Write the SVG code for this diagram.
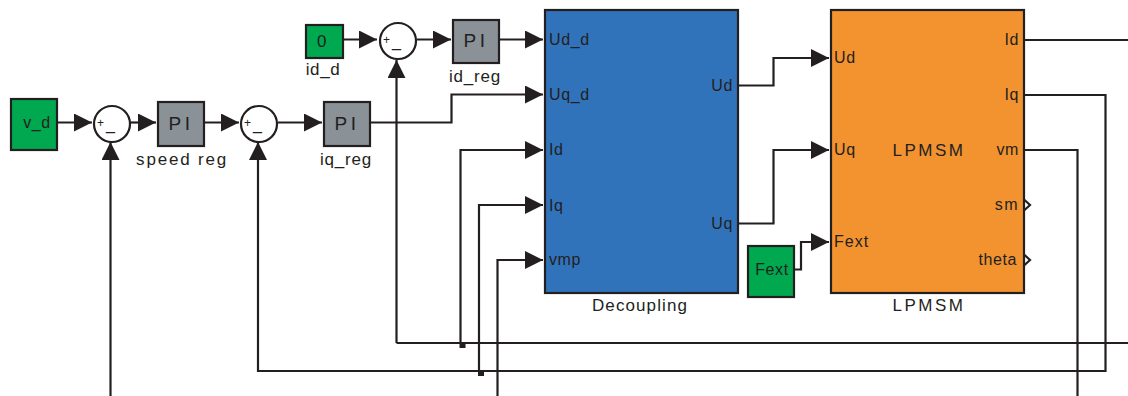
<svg xmlns="http://www.w3.org/2000/svg" width="1128" height="396" viewBox="0 0 1128 396">
<style>
text{font-family:"Liberation Sans",Arial,sans-serif;font-size:16px;fill:#231f20;letter-spacing:.6px}
.b{stroke:#231f20;stroke-width:2.200}
.g{fill:#00a84f}.p{fill:#8a9197}
.l{fill:none;stroke:#231f20;stroke-width:2.200}
.a{fill:#231f20;stroke:none}
.pi{font-size:19px;letter-spacing:3.500px;text-anchor:middle}
.lab{font-size:17px;text-anchor:middle}
.m{text-anchor:middle}.e{text-anchor:end}
.plus{font-size:12px;letter-spacing:0}
</style>
<defs><marker id="h" markerUnits="userSpaceOnUse" markerWidth="18" markerHeight="18" refX="18" refY="9" orient="auto"><path class="a" d="M0 0L18 9L0 18Z"/></marker></defs>
<g id="connectors">
<path class="l" marker-end="url(#h)" d="M57 122.500H92"/>
<path class="l" marker-end="url(#h)" d="M130 122.500H156"/>
<path class="l" marker-end="url(#h)" d="M204 122.500H239"/>
<path class="l" marker-end="url(#h)" d="M278 122.500H322"/>
<path class="l" marker-end="url(#h)" d="M343 39.500H377"/>
<path class="l" marker-end="url(#h)" d="M417 39.500H451"/>
<path class="l" marker-end="url(#h)" d="M499 39.500H543"/>
<path class="l" marker-end="url(#h)" d="M370 122.500H451.500V94.500H543"/>
<path class="l" marker-end="url(#h)" d="M738 85.500H773.500V58H829"/>
<path class="l" marker-end="url(#h)" d="M738 223.500H773.500V150H829"/>
<path class="l" marker-end="url(#h)" d="M794 269.500H801V242H829"/>
<path class="l" marker-end="url(#h)" d="M110.500 396V142"/>
<path class="l" marker-end="url(#h)" d="M1024 95H1105.500V371H258V142"/>
<path class="l" d="M1128 343H396.500"/>
<path class="l" marker-end="url(#h)" d="M396.500 343V60"/>
<path class="l" d="M1024 40H1128"/>
<path class="l" d="M1024 150H1077.500V396"/>
<path class="l" marker-end="url(#h)" d="M460.500 343V150H543"/>
<path class="l" marker-end="url(#h)" d="M479 371V205H543"/>
<path class="l" marker-end="url(#h)" d="M497.500 396V260H543"/>
<path class="a" d="M459.500 343h6v5h-6zM478 371h6v5h-6z"/>
<path class="l" d="M1024 199.500L1030 205L1024 210.500M1024 254.500L1030 260L1024 265.500"/>
</g>
<g id="v_d"><rect class="g b" x="11" y="99" width="46" height="51"/><text class="m" x="37" y="128">v_d</text></g>
<g id="sum1"><circle class="b" fill="#fff" cx="112" cy="124" r="18"/><text class="plus" x="97" y="127">+</text><text x="106" y="130">_</text></g>
<g id="speed_reg"><rect class="p b" x="158" y="102" width="46" height="44"/><text class="pi" x="181" y="130">PI</text><text class="lab" x="182" y="165" style="letter-spacing:1.800px">speed reg</text></g>
<g id="sum2"><circle class="b" fill="#fff" cx="259" cy="124" r="18"/><text class="plus" x="244" y="127">+</text><text x="253" y="130">_</text></g>
<g id="iq_reg"><rect class="p b" x="324" y="102" width="46" height="44"/><text class="pi" x="347" y="130">PI</text><text class="lab" x="346" y="165" style="letter-spacing:.8px">iq_reg</text></g>
<g id="id_d"><rect class="g b" x="306" y="25" width="37" height="33"/><text class="m" x="322" y="47" style="font-size:17px">0</text><text class="lab" x="323" y="75">id_d</text></g>
<g id="sum3"><circle class="b" fill="#fff" cx="398" cy="41" r="18"/><text class="plus" x="383" y="44">+</text><text x="392" y="47">_</text></g>
<g id="id_reg"><rect class="p b" x="453" y="20" width="46" height="43"/><text class="pi" x="476" y="47">PI</text><text class="lab" x="475" y="82" style="letter-spacing:.8px">id_reg</text></g>
<g id="Decoupling"><rect class="b" fill="#3173bb" x="545" y="10" width="193" height="283"/>
<text x="549" y="45">Ud_d</text><text x="549" y="100">Uq_d</text><text x="549" y="155">Id</text><text x="549" y="211">Iq</text><text x="549" y="265">vmp</text>
<text class="e" x="733" y="91">Ud</text><text class="e" x="733" y="229">Uq</text>
<text class="lab" x="640" y="311" style="letter-spacing:1.100px">Decoupling</text></g>
<g id="Fext"><rect class="g b" x="748" y="246" width="46" height="51"/><text class="m" x="772" y="275">Fext</text></g>
<g id="LPMSM"><rect fill="#f2932f" class="b" x="831" y="10" width="193" height="283"/>
<text x="834" y="63">Ud</text><text x="834" y="155">Uq</text><text x="834" y="247" style="letter-spacing:1px">Fext</text>
<text class="lab" x="929" y="156" style="letter-spacing:2.500px">LPMSM</text>
<text class="e" x="1019" y="45">Id</text><text class="e" x="1019" y="100">Iq</text><text class="e" x="1019" y="155">vm</text><text class="e" x="1019" y="210" style="letter-spacing:1.500px">sm</text><text class="e" x="1017" y="265">theta</text>
<text class="lab" x="929" y="311" style="letter-spacing:2.500px">LPMSM</text></g>
</svg>
